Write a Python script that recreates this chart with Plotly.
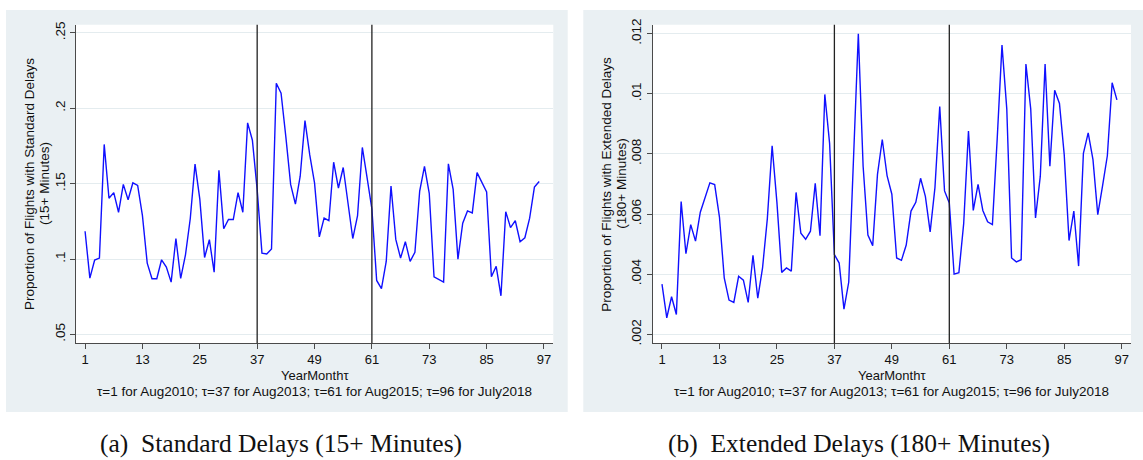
import plotly.graph_objects as go

# ---------------- data ----------------
tau = list(range(1, 97))

standard = [
    0.1184, 0.0873, 0.0993, 0.1006, 0.1760, 0.1403, 0.1440, 0.1310, 0.1495, 0.1393,
    0.1505, 0.1488, 0.1288, 0.0973, 0.0869, 0.0869, 0.0995, 0.0947, 0.0847, 0.1136,
    0.0871, 0.1028, 0.1267, 0.1629, 0.1397, 0.1010, 0.1128, 0.0913, 0.1588, 0.1201,
    0.1262, 0.1262, 0.1440, 0.1310, 0.1903, 0.1788, 0.1460, 0.1039, 0.1034, 0.1067,
    0.2166, 0.2100, 0.1810, 0.1495, 0.1364, 0.1549, 0.1918, 0.1690, 0.1505, 0.1147,
    0.1271, 0.1254, 0.1642, 0.1471, 0.1607, 0.1353, 0.1136, 0.1288, 0.1740, 0.1538,
    0.1332, 0.0858, 0.0804, 0.0984, 0.1484, 0.1130, 0.1006, 0.1115, 0.0984, 0.1045,
    0.1451, 0.1614, 0.1436, 0.0882, 0.0865, 0.0847, 0.1631, 0.1462, 0.0999, 0.1238,
    0.1319, 0.1306, 0.1573, 0.1505, 0.1445, 0.0882, 0.0952, 0.0756, 0.1314, 0.1208,
    0.1254, 0.1115, 0.1141, 0.1271, 0.1477, 0.1514,
]

extended = [
    0.00367, 0.00255, 0.00325, 0.00266, 0.00642, 0.00468, 0.00565, 0.00510, 0.00606, 0.00655,
    0.00704, 0.00698, 0.00590, 0.00388, 0.00314, 0.00306, 0.00393, 0.00380, 0.00306, 0.00463,
    0.00320, 0.00421, 0.00585, 0.00827, 0.00639, 0.00406, 0.00421, 0.00410, 0.00672, 0.00536,
    0.00516, 0.00543, 0.00702, 0.00528, 0.00998, 0.00835, 0.00465, 0.00437, 0.00284, 0.00374,
    0.00780, 0.01200, 0.00759, 0.00530, 0.00495, 0.00732, 0.00848, 0.00728, 0.00666, 0.00454,
    0.00446, 0.00497, 0.00610, 0.00639, 0.00719, 0.00659, 0.00541, 0.00688, 0.00958, 0.00677,
    0.00637, 0.00400, 0.00405, 0.00568, 0.00876, 0.00612, 0.00699, 0.00612, 0.00574, 0.00565,
    0.00850, 0.01162, 0.00950, 0.00454, 0.00441, 0.00448, 0.01099, 0.00950, 0.00587, 0.00726,
    0.01099, 0.00759, 0.01012, 0.00968, 0.00797, 0.00512, 0.00610, 0.00427, 0.00802, 0.00870,
    0.00781, 0.00598, 0.00694, 0.00794, 0.01037, 0.00980,
]

x_tickvals = [1, 13, 25, 37, 49, 61, 73, 85, 97]
std_tickvals = [0.05, 0.10, 0.15, 0.20, 0.25]
std_ticktext = [".05", ".1", ".15", ".2", ".25"]
ext_tickvals = [0.002, 0.004, 0.006, 0.008, 0.010, 0.012]
ext_ticktext = [".002", ".004", ".006", ".008", ".01", ".012"]
break_points = [37, 61]

std_title = ["Proportion of Flights with Standard Delays", "(15+ Minutes)"]
ext_title = ["Proportion of Flights with Extended Delays", "(180+ Minutes)"]
x_title = "YearMonth\u03c4"
note = "\u03c4=1 for Aug2010; \u03c4=37 for Aug2013; \u03c4=61 for Aug2015; \u03c4=96 for July2018"
captions = ["(a)  Standard Delays (15+ Minutes)", "(b)  Extended Delays (180+ Minutes)"]

# ---------------- geometry ----------------
W, H = 1143, 460
def fx(px):
    return px / W
def fy(py):
    return 1 - py / H

SANS = "Liberation Sans, Arial, Helvetica, sans-serif"
SERIF = "Liberation Serif, Times New Roman, serif"
PANEL = "#EAF0F3"
GRID = "#E4ECEF"
AXIS = "#4a4a4a"
BLUE = "#1010FF"
FS = 13.5

left_plot = (76, 553.3)
right_plot = (652.7, 1131)
plot_top, plot_bot = 19, 343.3

fig = go.Figure()
fig.add_trace(go.Scatter(x=tau, y=standard, mode="lines",
                         line=dict(color=BLUE, width=1.4), xaxis="x", yaxis="y",
                         showlegend=False))
fig.add_trace(go.Scatter(x=tau, y=extended, mode="lines",
                         line=dict(color=BLUE, width=1.4), xaxis="x2", yaxis="y2",
                         showlegend=False))

common_x = dict(tickvals=x_tickvals, ticks="outside", ticklen=5, tickcolor=AXIS,
                showline=True, linecolor=AXIS, linewidth=1, showgrid=False,
                zeroline=False, tickfont=dict(family=SANS, size=13, color="#111"),
                ticklabelstandoff=-1, fixedrange=True)
common_y = dict(ticks="outside", ticklen=5, tickcolor=AXIS, tickangle=-90,
                showline=True, linecolor=AXIS, linewidth=1, showgrid=True,
                gridcolor=GRID, gridwidth=1, zeroline=False,
                tickfont=dict(family=SANS, size=FS, color="#111"), fixedrange=True)

shapes = [
    dict(type="rect", xref="paper", yref="paper", x0=fx(6), x1=fx(567.7),
         y0=fy(413.3), y1=fy(4), fillcolor=PANEL, line=dict(width=0), layer="below"),
    dict(type="rect", xref="paper", yref="paper", x0=fx(583.3), x1=fx(1143),
         y0=fy(413.3), y1=fy(4), fillcolor=PANEL, line=dict(width=0), layer="below"),
    dict(type="rect", xref="paper", yref="paper", x0=fx(left_plot[0]), x1=fx(left_plot[1]),
         y0=fy(plot_bot), y1=fy(plot_top), fillcolor="white", line=dict(width=0), layer="below"),
    dict(type="rect", xref="paper", yref="paper", x0=fx(right_plot[0]), x1=fx(right_plot[1]),
         y0=fy(plot_bot), y1=fy(plot_top), fillcolor="white", line=dict(width=0), layer="below"),
]
for xa, ya in (("x", "y domain"), ("x2", "y2 domain")):
    for b in break_points:
        shapes.append(dict(type="line", xref=xa, yref=ya, x0=b, x1=b, y0=0, y1=1,
                           line=dict(color="#222", width=1.3)))

annotations = []
title_mid = fy((plot_top + plot_bot) / 2)
for (axis_px, title) in ((left_plot[0], std_title), (right_plot[0], ext_title)):
    annotations.append(dict(x=fx(axis_px - 46), y=title_mid, xref="paper", yref="paper",
                            text=title[0], textangle=-90, showarrow=False,
                            xanchor="center", yanchor="middle",
                            font=dict(family=SANS, size=FS, color="#111")))
    annotations.append(dict(x=fx(axis_px - 31), y=title_mid, xref="paper", yref="paper",
                            text=title[1], textangle=-90, showarrow=False,
                            xanchor="center", yanchor="middle",
                            font=dict(family=SANS, size=FS, color="#111")))
for (lp, rp) in (left_plot, right_plot):
    cx = fx((lp + rp) / 2)
    annotations.append(dict(x=cx, y=fy(376), xref="paper", yref="paper", text=x_title,
                            showarrow=False, xanchor="center", yanchor="middle",
                            font=dict(family=SANS, size=13, color="#111")))
    annotations.append(dict(x=cx, y=fy(392), xref="paper", yref="paper", text=note,
                            showarrow=False, xanchor="center", yanchor="middle",
                            font=dict(family=SANS, size=FS, color="#111")))
for cx_px, cap in ((281, captions[0]), (859, captions[1])):
    annotations.append(dict(x=fx(cx_px), y=fy(445), xref="paper", yref="paper", text=cap,
                            showarrow=False, xanchor="center", yanchor="middle",
                            font=dict(family=SERIF, size=25.5, color="#111")))

fig.update_layout(
    width=W, height=H, margin=dict(l=0, r=0, t=0, b=0),
    paper_bgcolor="white", plot_bgcolor="rgba(0,0,0,0)",
    xaxis=dict(domain=[fx(left_plot[0]), fx(left_plot[1])], range=[-0.9, 98.95],
               anchor="y", **common_x),
    yaxis=dict(domain=[fy(plot_bot), fy(plot_top)], range=[0.0441, 0.2554],
               tickvals=std_tickvals, ticktext=std_ticktext, anchor="x", **common_y),
    xaxis2=dict(domain=[fx(right_plot[0]), fx(right_plot[1])], range=[-0.94, 98.94],
                anchor="y2", **common_x),
    yaxis2=dict(domain=[fy(plot_bot), fy(plot_top)], range=[0.0017, 0.0123],
                tickvals=ext_tickvals, ticktext=ext_ticktext, anchor="x2", **common_y),
    shapes=shapes,
    annotations=annotations,
    showlegend=False,
)

fig.write_html("out.html")
